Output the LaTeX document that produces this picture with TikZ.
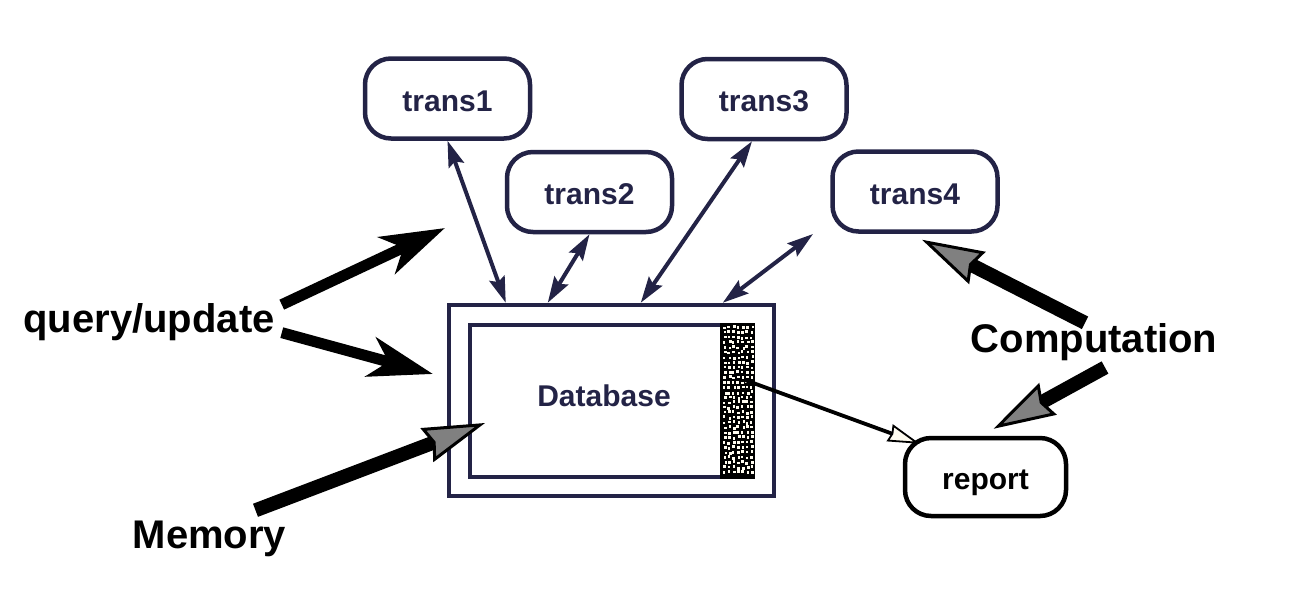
\documentclass[tikz,border=0pt]{standalone}
\usepackage{fontspec}
\setmainfont{Liberation Sans}
\usetikzlibrary{arrows.meta,calc}
\definecolor{navy}{RGB}{35,35,70}
\definecolor{cream}{RGB}{255,252,240}
\tikzset{
  tbox/.style={draw=navy,line width=4.5pt,rounded corners=26pt,minimum width=165pt,minimum height=80pt,
    text=navy,font=\fontsize{30}{36}\selectfont\bfseries,text height=25pt,text depth=0pt},
  rbox/.style={tbox,draw=black,text=black,minimum width=161pt,minimum height=78pt},
  dbox/.style={draw=navy,line width=4.5pt},
  lab/.style={inner sep=0pt,anchor=base,font=\fontsize{40}{48}\selectfont\bfseries},
  dlink/.style={navy,line width=4pt,{Stealth[length=26pt,width=16pt,inset=4pt]}-{Stealth[length=26pt,width=16pt,inset=4pt]}},
  bigarrow/.style={line width=11pt,-{Stealth[length=64pt,width=40pt,inset=18pt]}},
  grayarrow/.style={line width=14pt,-{Stealth[length=62pt,width=36pt,inset=6pt,fill=gray,line width=3pt]}},
  feed/.style={line width=3.8pt,-{Stealth[length=32pt,width=18pt,inset=2pt,fill=cream,line width=1.8pt]}},
}

\begin{document}
\begin{tikzpicture}[x=1pt,y=-1pt]
\useasboundingbox (0,0) rectangle (1313,614);
\node[tbox] (t1) at (447.5,98.5) {trans1}; % trans1
\node[tbox] (t2) at (589.5,192) {trans2}; % trans2
\node[tbox] (t3) at (764,99) {trans3}; % trans3
\node[tbox] (t4) at (915,191.5) {trans4}; % trans4
\node[rbox] (rep) at (985.5,477) {report}; % report
\node[dbox,minimum width=325pt,minimum height=191pt] (db) at (611.5,400.5) {}; % Database.outer
\node[dbox,minimum width=283pt,minimum height=152pt] (dbin) at (611.5,401) {}; % Database.inner
\fill (720,323) rectangle (755,479); % log strip
\pgfmathsetseed{11}
\foreach \r in {0,...,29} {
  \foreach \c in {0,...,6} {
    \fill[cream] ({722.5+\c*4.5+rnd*2.2},{325+\r*5+rnd*2.2}) rectangle ++(2.6,2.6);
  }
}
\node[text=navy,inner sep=0pt,anchor=base,font=\fontsize{30}{36}\selectfont\bfseries] (dbl) at (604,406) {Database};
\draw[dlink] (t1.south) -- ($(db.north west)+(59,0)$); % trans1 <-> db
\draw[dlink] (t2.south) -- ($(db.north west)+(101,0)$); % trans2 <-> db
\draw[dlink] ($(t3.south)+(-12,0)$) -- ($(db.north west)+(194,0)$); % trans3 <-> db
\coordinate (f4) at (813,234);
\draw[dlink] (f4) -- ($(db.north west)+(276,0)$); % loose
\node[lab] (qu) at (149,332) {query/update};
\coordinate (qa) at (445,228);
\coordinate (qb) at (433,374);
\draw[bigarrow] ($(qu.east)+(7,-17)$) -- (qa);
\draw[bigarrow] ($(qu.east)+(7,11)$) -- (qb);
\node[lab] (mem) at (209.5,548) {Memory};
\coordinate (mh) at (485,423);
\draw[grayarrow] ($(mem.north)+(46,-10)$) -- (mh);
\node[lab] (comp) at (1094,352) {Computation};
\draw[grayarrow] ($(comp.north)+(-9,0)$) -- ($(t4.south)+(7,6)$);
\draw[grayarrow] ($(comp.south)+(11,7)$) -- ($(rep.north)+(8,-7)$);
\coordinate (ds) at (745,380);
\draw[feed] (ds) -- ($(rep.north west)+(17,8)$); % db -> report
\end{tikzpicture}
\end{document}
